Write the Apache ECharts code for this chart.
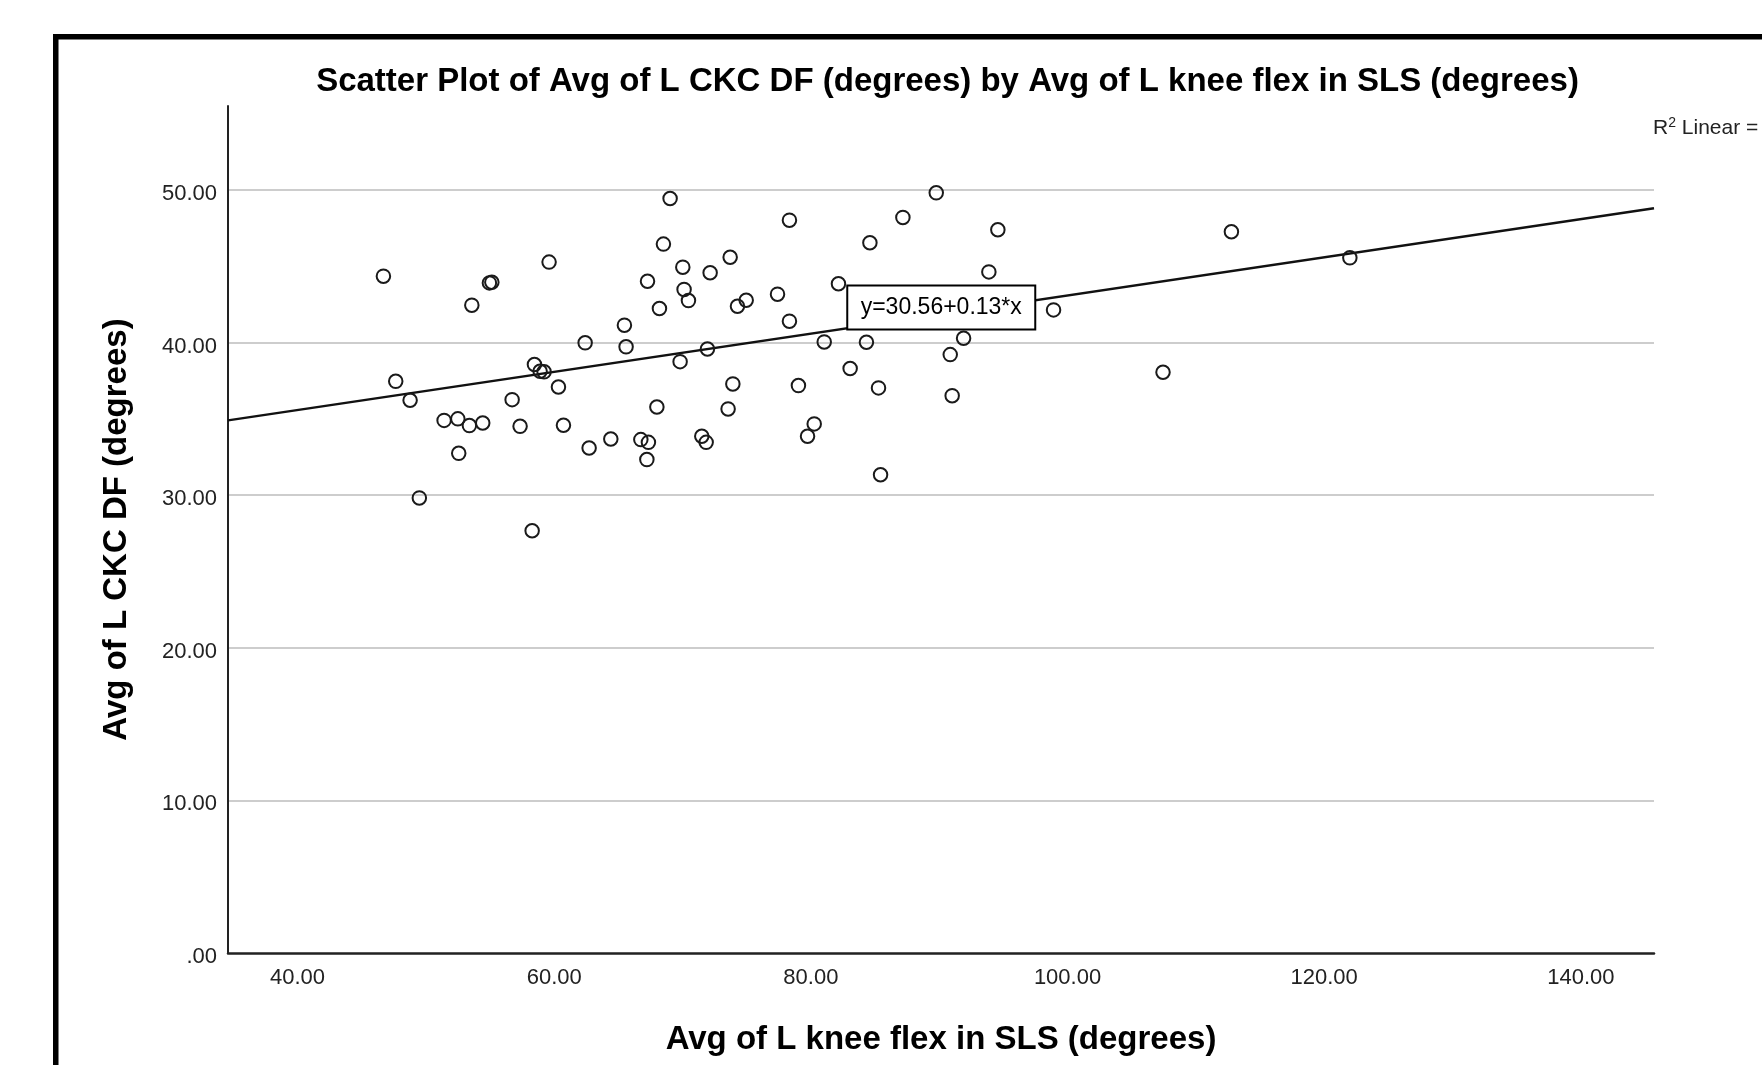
<!DOCTYPE html>
<html><head><meta charset="utf-8">
<script src="https://cdn.jsdelivr.net/npm/echarts@6/dist/echarts.min.js"></script>
<style>html,body{margin:0;padding:0;background:#fff}#c{width:1762px;height:1065px}</style>
</head><body><div id="c"></div>
<script>
const titleText = 'Scatter Plot of Avg of L CKC DF (degrees) by Avg of L knee flex in SLS (degrees)';
const xAxisName = 'Avg of L knee flex in SLS (degrees)';
const yAxisName = 'Avg of L CKC DF (degrees)';
const xVals = [46.69,47.65,48.77,49.49,53.58,54.95,55.14,51.42,52.49,53.39,54.43,52.56,56.72,57.34,58.28,58.46,58.90,59.21,59.60,60.33,60.72,62.41,62.72,64.41,65.47,65.60,66.75,67.34,67.22,67.27,68.00,68.20,68.51,69.03,69.81,70.02,70.12,70.46,71.50,71.84,71.94,72.15,73.71,73.92,73.55,74.28,74.96,77.40,78.33,78.33,79.03,80.26,79.74,81.04,82.15,83.06,84.33,84.60,85.27,85.43,87.17,89.77,90.86,91.01,91.90,93.87,94.57,98.91,107.44,112.77,122.00];
const yVals = [44.35,37.46,36.22,29.82,42.45,43.91,43.95,34.90,35.00,34.56,34.73,32.74,36.26,34.51,27.67,38.56,38.12,38.08,45.27,37.09,34.58,39.98,33.09,33.68,41.14,39.72,33.64,33.46,32.33,44.02,35.78,42.23,46.45,49.44,38.75,44.94,43.48,42.75,33.86,33.46,39.58,44.57,45.59,37.29,35.65,42.38,42.77,43.17,48.02,41.40,37.18,34.67,33.86,40.04,43.85,38.30,40.02,46.54,37.03,31.34,48.20,49.81,39.21,36.52,40.28,44.63,47.39,42.14,38.05,47.26,45.55];
const fitX = [34.58, 145.7];
const fitY = [34.90, 48.80];
const eqLabel = 'y=30.56+0.13*x';
const eqPos = [90.16, 42.3];
const xTicks = [40, 60, 80, 100, 120, 140];
const yTicks = [0, 10, 20, 30, 40, 50];
const xRange = [34.58, 145.7];
const yRange = [0, 55.5];
const r2Text = 'R{sup|2} Linear =';

const FONT = "'Liberation Sans', Arial, sans-serif";
const chart = echarts.init(document.getElementById('c'), null, {renderer: 'canvas'});
const points = xVals.map((x, i) => [x, yVals[i]]);
const fitData = fitX.map((x, i) => [x, fitY[i]]);

chart.setOption({
  backgroundColor: '#fff',
  animation: false,
  title: {
    text: titleText, left: 942.5, top: 60.5, textAlign: 'center',
    textStyle: {fontFamily: FONT, fontSize: 33, fontWeight: 'bold', color: '#000'}
  },
  graphic: [
    {type: 'rect', z: -10, shape: {x: 55.75, y: 36.75, width: 2000, height: 2000},
     style: {fill: 'none', stroke: '#000', lineWidth: 5.5}},
    {type: 'text', left: 1653, top: 116, z: 10,
     style: {text: r2Text, fontFamily: FONT, fontSize: 21, fill: '#222',
       rich: {sup: {fontSize: 14, verticalAlign: 'top', padding: [0, 0, 10, 0], fontFamily: FONT, fill: '#222'}}}}
  ],
  grid: {left: 228, right: 108, top: 106, bottom: 112, containLabel: false},
  xAxis: {
    type: 'value', min: xRange[0], max: xRange[1], splitNumber: 5,
    name: xAxisName, nameLocation: 'middle', nameGap: 70,
    nameTextStyle: {fontFamily: FONT, fontSize: 33, fontWeight: 'bold', color: '#000'},
    axisLine: {show: true, onZero: false, lineStyle: {color: '#222', width: 2.5}},
    axisTick: {show: false},
    splitLine: {show: false},
    axisLabel: {
      margin: 14, fontFamily: FONT, fontSize: 22, color: '#222',
      showMinLabel: false, showMaxLabel: false,
      formatter: v => xTicks.includes(Math.round(v * 1000) / 1000) ? v.toFixed(2) : ''
    }
  },
  yAxis: {
    type: 'value', min: yRange[0], max: yRange[1], interval: 10,
    name: yAxisName, nameLocation: 'middle', nameGap: 95,
    nameTextStyle: {fontFamily: FONT, fontSize: 33, fontWeight: 'bold', color: '#000'},
    axisLine: {show: true, lineStyle: {color: '#222', width: 2}},
    axisTick: {show: false},
    splitLine: {show: true, showMinLine: false, showMaxLine: false, lineStyle: {color: '#bdbdbd', width: 1.5}},
    axisLabel: {
      margin: 11, fontFamily: FONT, fontSize: 22, color: '#222', showMaxLabel: false,
      formatter: v => yTicks.includes(v) ? '{a|' + (v === 0 ? '.00' : v.toFixed(2)) + '}' : '',
      rich: {a: {fontFamily: FONT, fontSize: 22, color: '#222', padding: [8, 0, 0, 0]}}
    }
  },
  series: [
    {type: 'line', data: fitData, symbol: 'none', z: 3,
     lineStyle: {color: '#111', width: 2.5}},
    {type: 'scatter', data: points, symbol: 'circle', symbolSize: 13.5, z: 4,
     itemStyle: {color: 'rgba(0,0,0,0)', borderColor: '#1a1a1a', borderWidth: 2, opacity: 1}},
    {type: 'scatter', data: [eqPos], symbolSize: 0, z: 6, silent: true,
     itemStyle: {opacity: 1},
     label: {show: true, position: 'inside', formatter: eqLabel, opacity: 1,
       fontFamily: FONT, fontSize: 23, color: '#000', backgroundColor: '#fff',
       borderColor: '#000', borderWidth: 2, padding: [5, 6], width: 174, align: 'center', lineHeight: 32}}
  ]
});
</script></body></html>
